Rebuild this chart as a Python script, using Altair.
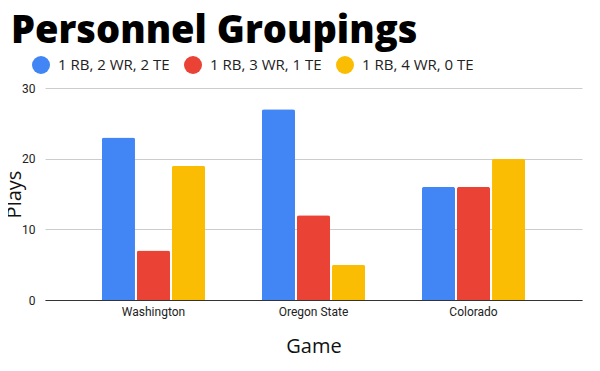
import altair as alt
import pandas as pd

games = ["Washington", "Oregon State", "Colorado"]
groupings = ["1 RB, 2 WR, 2 TE", "1 RB, 3 WR, 1 TE", "1 RB, 4 WR, 0 TE"]
plays_2wr = [23, 27, 16]
plays_3wr = [7, 12, 16]
plays_4wr = [19, 5, 20]
colors = ["#4285F4", "#EA4335", "#FBBC04"]

rows = []
for series, vals in zip(groupings, [plays_2wr, plays_3wr, plays_4wr]):
    for g, v in zip(games, vals):
        rows.append({"Game": g, "Grouping": series, "Plays": v})
df = pd.DataFrame(rows)

chart = alt.Chart(df).mark_bar(
    cornerRadiusTopLeft=2, cornerRadiusTopRight=2
).encode(
    x=alt.X("Game:N", sort=games,
            scale=alt.Scale(paddingInner=0.356, paddingOuter=0.356),
            axis=alt.Axis(title="Game", labelAngle=0, ticks=False, domainColor="#333333",
                          labelFont="Roboto", labelFontSize=12, labelColor="#222222",
                          labelPadding=6, titleFont="Open Sans", titleFontSize=20,
                          titleFontWeight="normal", titleColor="#111111", titlePadding=19)),
    xOffset=alt.XOffset("Grouping:N", sort=groupings,
                        scale=alt.Scale(paddingInner=0.057, paddingOuter=0)),
    y=alt.Y("Plays:Q", scale=alt.Scale(domain=[0, 30]),
            axis=alt.Axis(title="Plays", values=[0, 10, 20, 30], domain=False, ticks=False,
                          gridColor="#cccccc", labelFont="Roboto", labelFontSize=12,
                          labelColor="#222222", labelPadding=10,
                          titleFont="Open Sans", titleFontSize=20, titleFontWeight="normal",
                          titleColor="#111111", titleX=-21)),
    color=alt.Color("Grouping:N", sort=groupings,
                    scale=alt.Scale(domain=groupings, range=colors),
                    legend=alt.Legend(title=None, orient="none", direction="horizontal",
                                      legendX=-13, legendY=-32, symbolType="circle",
                                      symbolSize=324, symbolStrokeWidth=0,
                                      labelFont="Open Sans", labelFontSize=15,
                                      labelColor="#222222", labelOffset=8,
                                      columnPadding=14)),
).properties(
    width=537, height=212,
    title=alt.Title("Personnel Groupings", anchor="start", frame="group", dx=-34, offset=5,
                    font="Open Sans", fontSize=38, fontWeight=800, color="#000000"),
    autosize=alt.AutoSizeParams(type="none"),
    padding={"left": 37, "top": 80, "right": 10, "bottom": 60},
).configure_view(stroke=None)

chart.save("out.html", embed_options={"renderer": "svg", "actions": False})
